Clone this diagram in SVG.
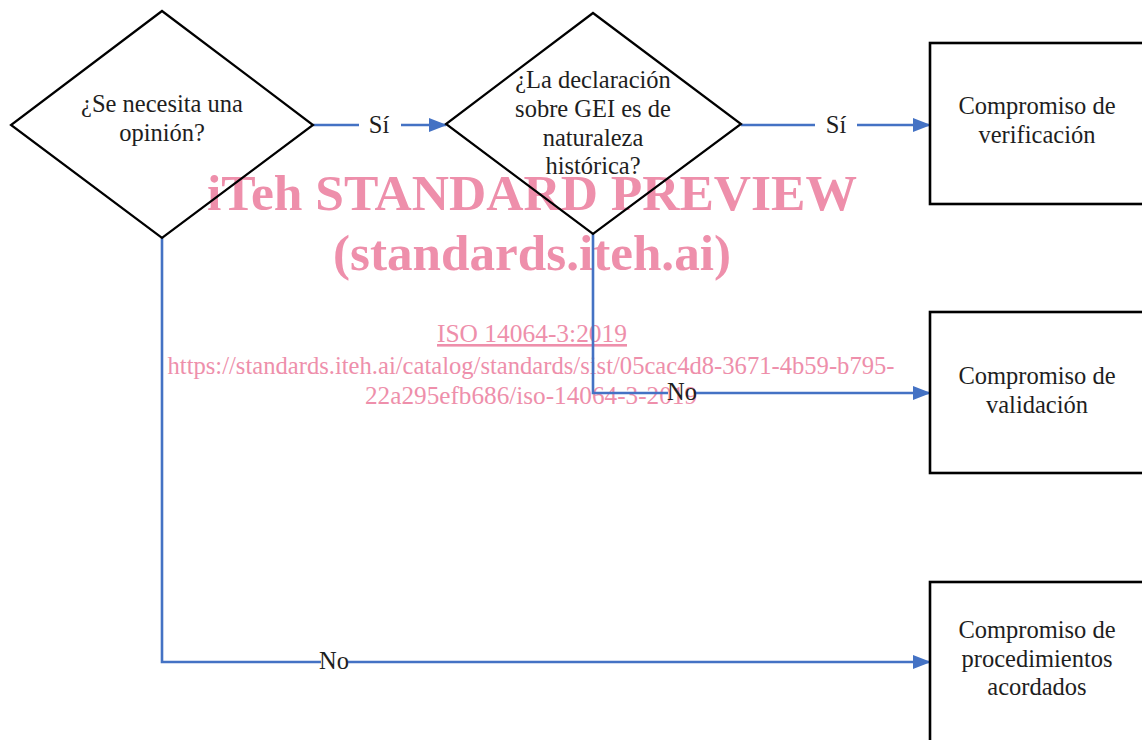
<svg xmlns="http://www.w3.org/2000/svg" width="1142" height="740" viewBox="0 0 1142 740">
<style>
.shape{fill:none;stroke:#000000;stroke-width:2.2}
.box{fill:none;stroke:#000000;stroke-width:2.6}
.conn{fill:none;stroke:#4472C4;stroke-width:2.6}
.t{font-family:"Liberation Serif","Times New Roman",serif;font-size:24.5px;fill:#1e1e1e;text-anchor:middle}
.wm{font-family:"Liberation Serif","Times New Roman",serif;fill:#EE8FAB;text-anchor:middle}
.wmb{font-weight:bold;font-size:51px}
.wms{font-size:26px}
</style>
<defs>
<marker id="arr" markerWidth="18" markerHeight="14" refX="17" refY="7" orient="auto" markerUnits="userSpaceOnUse">
<path d="M0,0 L18,7 L0,14 Z" fill="#4472C4"/>
</marker>
</defs>
<rect width="1142" height="740" fill="#ffffff"/>
<g id="watermark">
<text class="wm wmb" x="532" y="210" textLength="650" lengthAdjust="spacingAndGlyphs">iTeh STANDARD PREVIEW</text>
<text class="wm wmb" x="532" y="270" textLength="398" lengthAdjust="spacingAndGlyphs">(standards.iteh.ai)</text>
<text class="wm wms" x="532" y="342" textLength="190" lengthAdjust="spacingAndGlyphs" text-decoration="underline">ISO 14064-3:2019</text>
<text class="wm wms" x="531" y="374" textLength="727" lengthAdjust="spacingAndGlyphs">https://standards.iteh.ai/catalog/standards/sist/05cac4d8-3671-4b59-b795-</text>
<text class="wm wms" x="531" y="404" textLength="332" lengthAdjust="spacingAndGlyphs">22a295efb686/iso-14064-3-2019</text>
</g>
<g id="connectors">
<line class="conn" x1="313" y1="125" x2="359" y2="125"/>
<line class="conn" x1="401" y1="125" x2="446" y2="125" marker-end="url(#arr)"/>
<text class="t" x="379" y="133">Sí</text>
<line class="conn" x1="741" y1="125" x2="815" y2="125"/>
<line class="conn" x1="857" y1="125" x2="930" y2="125" marker-end="url(#arr)"/>
<text class="t" x="836" y="133">Sí</text>
<polyline class="conn" points="593,234 593,393 668,393"/>
<line class="conn" x1="694" y1="393" x2="930" y2="393" marker-end="url(#arr)"/>
<text class="t" x="682" y="400">No</text>
<polyline class="conn" points="162,238 162,662 321,662"/>
<line class="conn" x1="348" y1="662" x2="930" y2="662" marker-end="url(#arr)"/>
<text class="t" x="334" y="669">No</text>
</g>
<g id="d1">
<polygon class="shape" points="162,11 313,125 162,238 11,125"/>
<text class="t" x="162" y="112">¿Se necesita una</text>
<text class="t" x="162" y="141">opinión?</text>
</g>
<g id="d2">
<polygon class="shape" points="593,13 741,124 593,234 446,124"/>
<text class="t" x="593" y="88">¿La declaración</text>
<text class="t" x="593" y="117">sobre GEI es de</text>
<text class="t" x="593" y="146">naturaleza</text>
<text class="t" x="593" y="174">histórica?</text>
</g>
<g id="b1">
<rect class="box" x="930" y="43" width="216" height="161"/>
<text class="t" x="1037" y="114">Compromiso de</text>
<text class="t" x="1037" y="143">verificación</text>
</g>
<g id="b2">
<rect class="box" x="930" y="312" width="216" height="161"/>
<text class="t" x="1037" y="384">Compromiso de</text>
<text class="t" x="1037" y="413">validación</text>
</g>
<g id="b3">
<rect class="box" x="930" y="582" width="216" height="170"/>
<text class="t" x="1037" y="638">Compromiso de</text>
<text class="t" x="1037" y="667">procedimientos</text>
<text class="t" x="1037" y="695">acordados</text>
</g>
</svg>
